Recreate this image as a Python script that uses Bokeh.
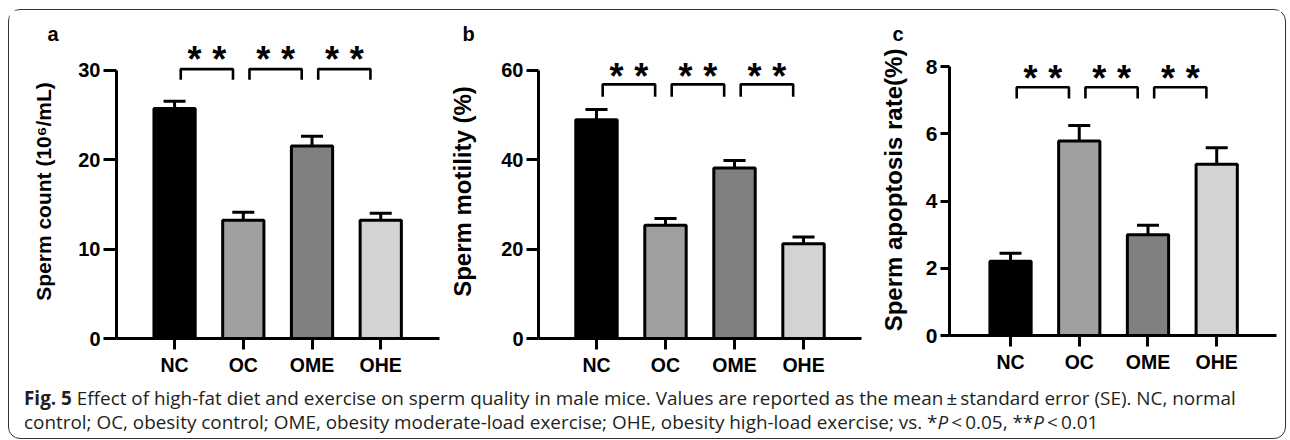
from bokeh.plotting import figure
from bokeh.models import FixedTicker, Div, Range1d, LinearAxis, ColumnDataSource
from bokeh.layouts import row, column
from bokeh.embed import file_html
from bokeh.resources import INLINE
from bokeh.core.properties import value

# ---------------- data ----------------
groups = ["NC", "OC", "OME", "OHE"]
bar_colors = ["#000000", "#a0a0a0", "#808080", "#d3d3d3"]

count_mean = [25.7, 13.2, 21.5, 13.2]
count_se = [0.8, 0.9, 1.1, 0.8]

motility_mean = [48.9, 25.3, 38.1, 21.2]
motility_se = [2.3, 1.5, 1.7, 1.5]

apoptosis_mean = [2.21, 5.79, 3.00, 5.10]
apoptosis_se = [0.24, 0.46, 0.28, 0.49]

pairs = [(0, 1), (1, 2), (2, 3)]
pair_marks = ["**", "**", "**"]

count_ticks = [0, 10, 20, 30]
motility_ticks = [0, 20, 40, 60]
apoptosis_ticks = [0, 2, 4, 6, 8]

FONT = "Liberation Sans"


def panel(means, ses, ticks, ylabel, letter, *, xr, yend, fw, fh, bl, br, bt, bb,
          br_top, br_drop, star_y, letter_offset, ylab_size, ytick_size, ytick_len,
          ylab_standoff):
    p = figure(x_range=Range1d(*xr), y_range=Range1d(0, yend),
               frame_width=fw, frame_height=fh,
               min_border_left=bl, min_border_right=br, min_border_top=bt,
               min_border_bottom=bb, output_backend="svg", toolbar_location=None,
               x_axis_type=None, y_axis_type=None)
    p.outline_line_color = None
    p.background_fill_color = "white"
    p.border_fill_color = "white"

    p.title.text = letter
    p.title.align = "left"
    p.title.offset = letter_offset
    p.title.standoff = 0
    p.title.text_font = FONT
    p.title.text_font_style = "bold"
    p.title.text_font_size = "20px"
    p.title.text_color = "black"

    idx = list(range(len(groups)))
    src = ColumnDataSource(dict(x=idx, top=means, top_err=[m + s for m, s in zip(means, ses)],
                                c=bar_colors,
                                cl=[i - 0.16 for i in idx], cr=[i + 0.16 for i in idx]))
    p.segment(x0="x", y0="top", x1="x", y1="top_err", source=src,
              line_color="black", line_width=3)
    p.segment(x0="cl", y0="top_err", x1="cr", y1="top_err", source=src,
              line_color="black", line_width=3)
    p.vbar(x="x", top="top", bottom=0, width=0.6, fill_color="c",
           line_color="black", line_width=3, source=src)

    # significance brackets
    xs, ys, sx, sy, st = [], [], [], [], []
    for (i, j), mark in zip(pairs, pair_marks):
        l, r = i + 0.09, j - 0.15
        xs.append([l, l, r, r])
        ys.append([br_drop, br_top, br_top, br_drop])
        c = (l + r) / 2
        for k, ch in enumerate(mark):
            off = (k - (len(mark) - 1) / 2) * 0.36
            sx.append(c + off)
            sy.append(star_y)
            st.append("*")
    p.multi_line(xs=xs, ys=ys, line_color="black", line_width=2.6)
    p.text(x=sx, y=sy, text=st, text_font=value(FONT), text_font_style="bold",
           text_font_size="36px", text_align="center", text_baseline="middle",
           y_offset=6, text_color="black")

    xaxis = LinearAxis(ticker=FixedTicker(ticks=idx),
                       major_label_overrides={i: g for i, g in enumerate(groups)})
    xaxis.axis_line_width = 3
    xaxis.major_tick_line_width = 3
    xaxis.major_tick_out = 11
    xaxis.major_tick_in = 0
    xaxis.minor_tick_out = 0
    xaxis.major_label_standoff = 4
    xaxis.major_label_text_font = FONT
    xaxis.major_label_text_font_style = "bold"
    xaxis.major_label_text_font_size = "19.5px"
    xaxis.major_label_text_color = "black"
    p.add_layout(xaxis, "below")

    yaxis = LinearAxis(ticker=FixedTicker(ticks=ticks), bounds=(0, ticks[-1]),
                       axis_label=ylabel)
    yaxis.axis_line_width = 3
    yaxis.major_tick_line_width = 3
    yaxis.major_tick_out = ytick_len
    yaxis.major_tick_in = 0
    yaxis.minor_tick_out = 0
    yaxis.major_label_standoff = 3
    yaxis.major_label_text_font = FONT
    yaxis.major_label_text_font_style = "bold"
    yaxis.major_label_text_font_size = ytick_size
    yaxis.major_label_text_color = "black"
    yaxis.axis_label_text_font = FONT
    yaxis.axis_label_text_font_style = "bold"
    yaxis.axis_label_text_font_size = ylab_size
    yaxis.axis_label_text_color = "black"
    yaxis.axis_label_standoff = ylab_standoff
    p.add_layout(yaxis, "left")
    return p


pa = panel(count_mean, count_se, count_ticks, "Sperm count (10\u2076/mL)", "a",
           xr=(-0.845, 3.855), yend=32.85, fw=323, fh=294, bl=107, br=7, bt=34, bb=42,
           br_top=30.1, br_drop=28.9, star_y=31.9, letter_offset=-69,
           ylab_size="21px", ytick_size="20px", ytick_len=13, ylab_standoff=20)
pb = panel(motility_mean, motility_se, motility_ticks, "Sperm motility (%)", "b",
           xr=(-0.84, 3.84), yend=65.7, fw=323, fh=294, bl=90, br=4, bt=34, bb=42,
           br_top=56.8, br_drop=54.0, star_y=60.0, letter_offset=-76,
           ylab_size="24px", ytick_size="20px", ytick_len=12, ylab_standoff=22)
pc = panel(apoptosis_mean, apoptosis_se, apoptosis_ticks, "Sperm apoptosis rate(%)", "c",
           xr=(-0.888, 3.87), yend=8.66, fw=327, fh=291, bl=84, br=5, bt=34, bb=45,
           br_top=7.39, br_drop=7.05, star_y=7.82, letter_offset=-57,
           ylab_size="24px", ytick_size="21px", ytick_len=9, ylab_standoff=16)

caption_html = (
    "<div style=\"font-family:'Open Sans',sans-serif; font-size:18.9px; line-height:24px; "
    "color:#231f20; white-space:nowrap; padding-left:10px; padding-top:1px;\">"
    "<b>Fig. 5</b> Effect of high-fat diet and exercise on sperm quality in male mice. "
    "Values are reported as the mean\u2009\u00b1\u2009standard error (SE). NC, normal<br>"
    "control; OC, obesity control; OME, obesity moderate-load exercise; "
    "OHE, obesity high-load exercise; vs. *<i>P</i>\u2009&lt;\u20090.05, "
    "**<i>P</i>\u2009&lt;\u20090.01</div>"
)
cap = Div(text=caption_html, width=1266, height=48,
          styles={"font-size": "18.9px", "font-family": "Open Sans"})

layout = column(row(pa, pb, pc), cap,
                styles={"border": "1.5px solid #333333", "border-radius": "12px",
                        "margin-left": "8px", "margin-top": "9px"})

open("out.html", "w").write(file_html(layout, INLINE))
